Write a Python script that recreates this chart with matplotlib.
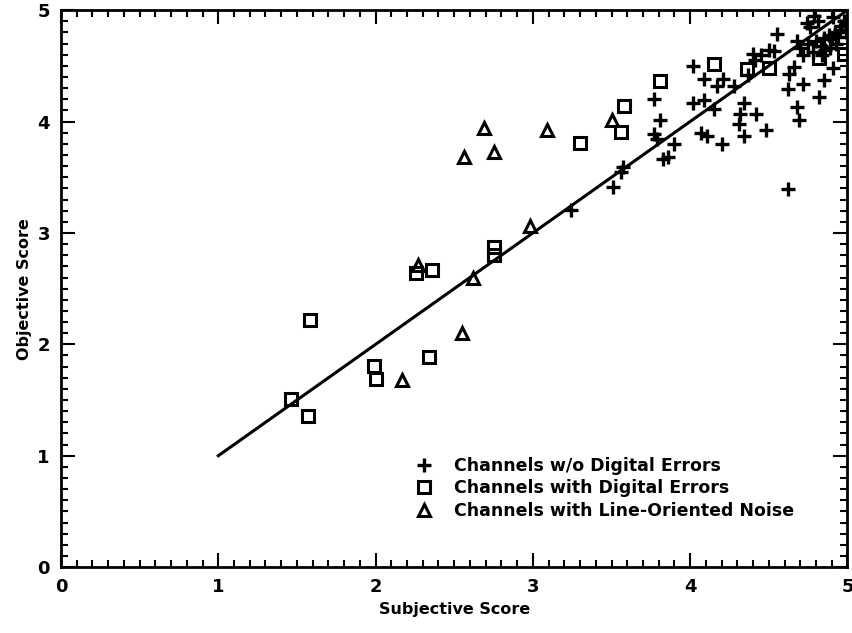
import matplotlib.pyplot as plt
from matplotlib.ticker import MultipleLocator

# channels without digital errors (+)
plus_x = [4.55, 4.74, 4.79, 4.40, 4.50, 4.02, 4.09, 4.21, 4.17, 4.28, 4.37, 4.41,
          4.66, 4.63, 4.62, 4.72, 4.85, 4.91, 4.82, 3.77, 3.81, 4.02, 4.09, 4.15,
          4.34, 4.32, 4.42, 4.31, 4.48, 4.68, 4.69, 3.77, 3.79, 4.07, 4.11, 4.20,
          4.34, 3.90, 3.86, 3.83, 3.57, 3.51, 3.24, 4.62, 3.56, 4.45, 4.53,
          4.70, 4.75, 4.80, 4.85, 4.88, 4.92, 4.95, 4.78, 4.83, 4.90, 4.96, 4.72,
          4.86, 4.93, 4.98, 4.76, 4.81, 4.89, 4.94, 4.68, 4.99, 4.84, 4.91]
plus_y = [4.79, 4.88, 4.95, 4.61, 4.64, 4.50, 4.38, 4.38, 4.32, 4.32, 4.42, 4.55,
          4.49, 4.43, 4.29, 4.34, 4.37, 4.48, 4.22, 4.20, 4.01, 4.17, 4.19, 4.11,
          4.17, 4.07, 4.07, 3.98, 3.92, 4.13, 4.01, 3.89, 3.84, 3.90, 3.87, 3.80,
          3.87, 3.80, 3.68, 3.66, 3.59, 3.41, 3.21, 3.39, 3.55, 4.60, 4.63,
          4.66, 4.70, 4.72, 4.75, 4.78, 4.80, 4.82, 4.62, 4.68, 4.74, 4.86, 4.60,
          4.64, 4.70, 4.90, 4.85, 4.90, 4.66, 4.76, 4.72, 4.80, 4.60, 4.94]

# channels with digital errors (squares)
sq_x = [4.15, 3.81, 3.58, 3.56, 3.30, 4.36, 4.50, 4.82, 4.98, 2.75, 2.75, 2.26,
        2.36, 1.58, 2.34, 1.99, 2.00, 1.46, 1.57]
sq_y = [4.52, 4.36, 4.14, 3.91, 3.81, 4.47, 4.48, 4.57, 4.61, 2.87, 2.80, 2.64,
        2.67, 2.22, 1.89, 1.81, 1.69, 1.51, 1.36]

# channels with line-oriented noise (triangles)
tri_x = [2.69, 3.09, 2.56, 2.75, 2.98, 2.27, 2.62, 2.55, 2.17, 3.50]
tri_y = [3.94, 3.92, 3.68, 3.73, 3.06, 2.71, 2.60, 2.10, 1.68, 4.01]

line_x = [1, 5]
line_y = [1, 5]

plt.rcParams['font.family'] = 'DejaVu Sans'
plt.rcParams['font.weight'] = 'bold'

fig = plt.figure(figsize=(8.53, 6.33), dpi=100)
ax = fig.add_axes([0.0715, 0.104, 0.922, 0.880])

ax.plot(line_x, line_y, color='black', lw=2.2)
ax.plot(plus_x, plus_y, '+', color='black', ms=10, mew=2.4,
        label='Channels w/o Digital Errors')
ax.plot(sq_x, sq_y, 's', mfc='none', mec='black', ms=9, mew=2.2,
        label='Channels with Digital Errors')
ax.plot(tri_x, tri_y, '^', mfc='none', mec='black', ms=8, mew=2.2,
        label='Channels with Line-Oriented Noise')

ax.set_xlim(0, 5)
ax.set_ylim(0, 5)
ax.xaxis.set_major_locator(MultipleLocator(1))
ax.yaxis.set_major_locator(MultipleLocator(1))
ax.xaxis.set_minor_locator(MultipleLocator(0.1))
ax.yaxis.set_minor_locator(MultipleLocator(0.1))
ax.tick_params(which='both', direction='in', top=True, right=True, width=1.5)
ax.tick_params(which='major', length=10, labelsize=13, pad=8)
ax.tick_params(which='minor', length=5)
for s in ax.spines.values():
    s.set_linewidth(2)

ax.set_xlabel('Subjective Score', fontsize=11.5, fontweight='bold')
ax.set_ylabel('Objective Score', fontsize=11.5, fontweight='bold')

ax.legend(loc='upper left', bbox_to_anchor=(0.44, 0.21), frameon=False,
          prop={'size': 12.5, 'weight': 'bold'}, handlelength=1.2,
          handletextpad=1.1, labelspacing=0.25, borderaxespad=0)

fig.savefig('out.png', dpi=100)
